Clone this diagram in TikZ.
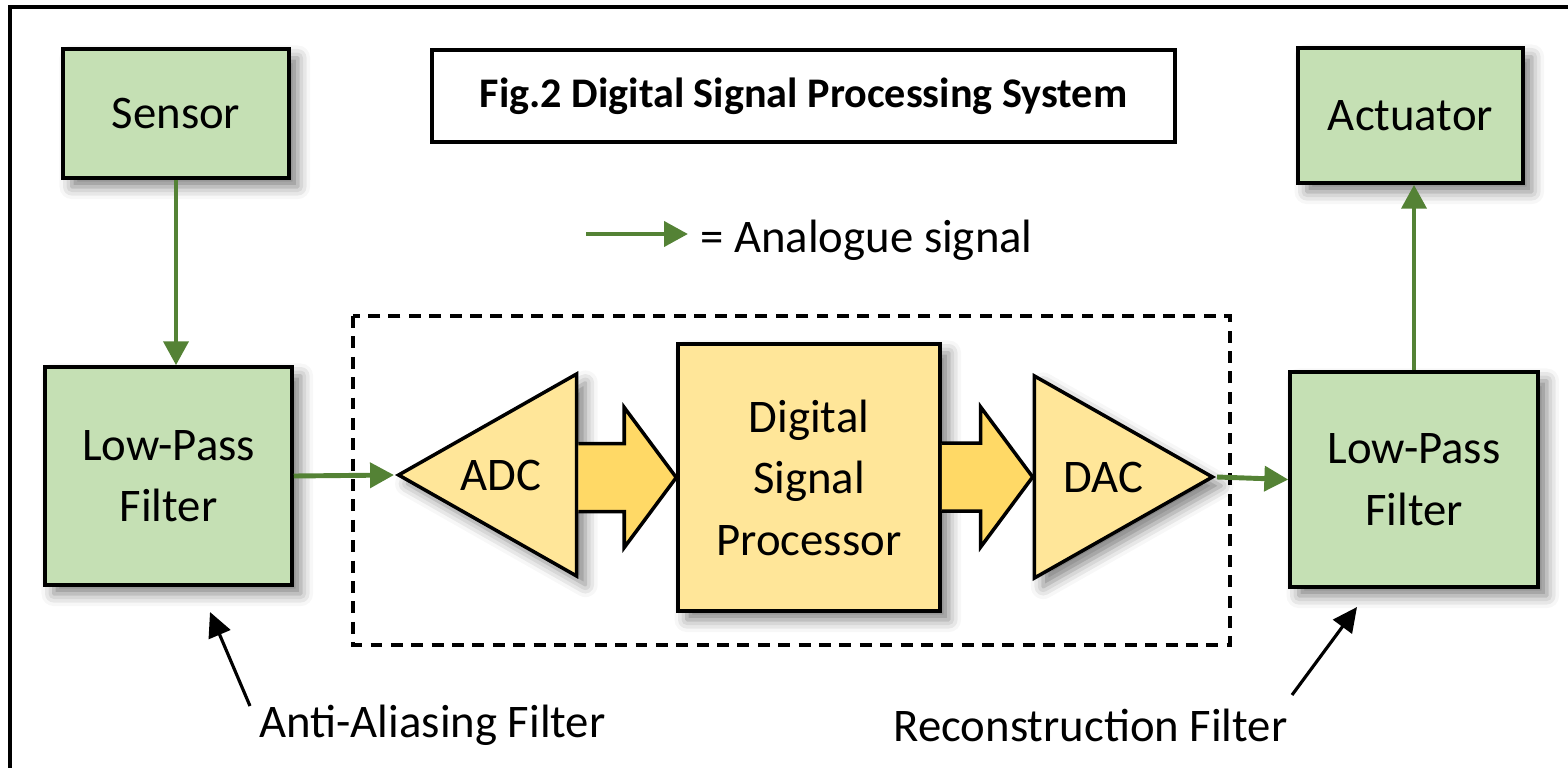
\documentclass[tikz,border=0pt]{standalone}
\usepackage{fontspec}
\setmainfont{Carlito}
\usetikzlibrary{arrows.meta, positioning, shapes.geometric, calc, shadows.blur}

\definecolor{boxgreen}{HTML}{C5E0B4}
\definecolor{linegreen}{HTML}{548235}
\definecolor{boxyellow}{HTML}{FFE699}
\definecolor{arrowyellow}{HTML}{FFD966}

\tikzset{
    softshadow/.style={blur shadow={shadow xshift=2.5pt, shadow yshift=-2.5pt,
        shadow blur radius=3.5pt, shadow opacity=50}},
    greenbox/.style={draw, line width=1pt, fill=boxgreen, softshadow,
        align=center, inner sep=0pt},
    yellowbox/.style={draw, line width=1pt, fill=boxyellow, softshadow,
        align=center, inner sep=0pt},
    converter/.style={isosceles triangle, isosceles triangle stretches,
        draw, line width=1pt, fill=boxyellow, softshadow, inner sep=0pt,
        minimum width=2.02cm, minimum height=1.78cm},
    signal/.style={-{Triangle[length=6.8pt,width=7pt]}, linegreen, line width=1.4pt},
    pointer/.style={-{Triangle[length=7pt,width=6.6pt]}, line width=0.9pt},
    fatarrow/.style={draw, line width=1pt, fill=arrowyellow, line join=miter}
}

% wide yellow arrow, tip on the second point
\newcommand{\fatarrow}[2]{%
    \draw[fatarrow] let \p1=(#1), \p2=(#2) in
        (\x1,\y2+0.34cm) -- (\x2-0.52cm,\y2+0.34cm) -- (\x2-0.52cm,\y2+0.70cm)
        -- (\p2) -- (\x2-0.52cm,\y2-0.70cm) -- (\x2-0.52cm,\y2-0.34cm)
        -- (\x1,\y2-0.34cm);
}

\begin{document}
\begin{tikzpicture}[
    every node/.style={font=\fontsize{13.3}{17.5}\selectfont}
]
\useasboundingbox (0,0) rectangle (15.68,7.67);

% Outer frame
\draw[line width=1pt] (0.10,7.60) rectangle (16.0,-0.5);

% Title
\node[draw, line width=1pt, fill=white, minimum width=7.43cm, minimum height=0.92cm,
      font=\fontsize{12}{14}\selectfont\bfseries] (title) at (8.035,6.71)
      {Fig.2 Digital Signal Processing System};

% Analogue side
\node[greenbox, minimum width=2.26cm, minimum height=1.29cm] (sensor) at (1.76,6.535) {Sensor};
\node[greenbox, minimum width=2.25cm, minimum height=1.35cm] (actuator) at (14.105,6.515) {Actuator};
\node[greenbox, minimum width=2.47cm, minimum height=2.18cm] (lpfin) at (1.685,2.91) {Low-Pass\\Filter};
\node[greenbox, minimum width=2.48cm, minimum height=2.15cm] (lpfout) at (14.14,2.875) {Low-Pass\\Filter};

% Digital part
\draw[line width=1pt, dash pattern=on 3.4pt off 2.4pt] (3.53,4.51) rectangle (12.30,1.22);
\node[converter, shape border rotate=180, anchor=apex,
      label={[xshift=-0.165cm]center:ADC}] (adc) at (3.94,2.92) {};
\node[yellowbox, minimum width=2.62cm, minimum height=2.67cm] (dsp) at (8.09,2.895)
      {Digital\\Signal\\Processor};
\node[converter, anchor=apex,
      label={[xshift=0.105cm]center:DAC}] (dac) at (12.17,2.90) {};

\fatarrow{adc.lower side}{dsp.west}
\fatarrow{dsp.east}{dac.lower side}

% Analogue signals
\draw[signal] (sensor.south) -- (sensor.south |- lpfin.north);
\draw[signal] (lpfin.east) -- (adc.apex);
\draw[signal] (dac.apex) -- (lpfout.west);
\draw[signal] (lpfout.north) -- (lpfout.north |- actuator.south);

% Legend
\node[anchor=west] (legend) at (6.88,5.27) {= Analogue signal};
\coordinate (legtail) at (5.86,5.33);
\draw[signal] (legtail) -- (legtail -| legend.west);

% Filter labels
\node (aalabel) at (4.325,0.42) {Anti-Aliasing Filter};
\coordinate (aatail) at (2.50,0.61);
\coordinate (aahead) at (2.10,1.55);
\draw[pointer] (aatail) -- (aahead);

\node (rclabel) at (10.905,0.42) {Reconstruction Filter};
\coordinate (rctail) at (12.92,0.72);
\coordinate (rchead) at (13.57,1.60);
\draw[pointer] (rctail) -- (rchead);
\end{tikzpicture}
\end{document}
